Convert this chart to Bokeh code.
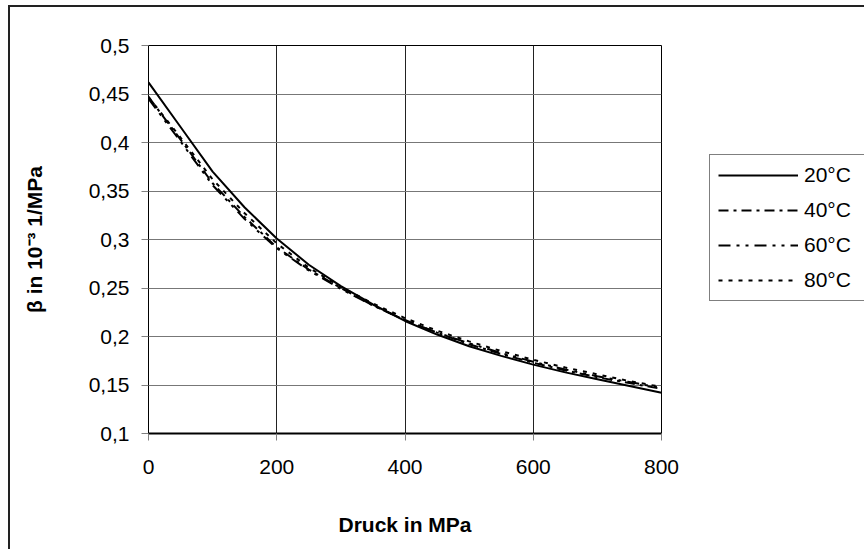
from bokeh.plotting import figure
from bokeh.models import FixedTicker, Legend, LegendItem, Range1d
from bokeh.layouts import row
from bokeh.embed import file_html
from bokeh.resources import INLINE

# ---- data ----
pressure = [0, 50, 100, 150, 200, 250, 300, 350, 400, 450, 500, 550, 600, 650, 700, 750, 800]
beta_20 = [0.462, 0.416, 0.370, 0.333, 0.301, 0.274, 0.252, 0.233, 0.216, 0.202, 0.190, 0.180, 0.171, 0.163, 0.156, 0.149, 0.142]
beta_40 = [0.447, 0.403, 0.358, 0.323, 0.292, 0.269, 0.250, 0.232, 0.217, 0.204, 0.192, 0.182, 0.173, 0.165, 0.158, 0.152, 0.146]
beta_60 = [0.445, 0.401, 0.356, 0.321, 0.291, 0.268, 0.249, 0.232, 0.217, 0.204, 0.193, 0.183, 0.174, 0.166, 0.159, 0.153, 0.147]
beta_80 = [0.447, 0.405, 0.362, 0.327, 0.296, 0.271, 0.251, 0.234, 0.219, 0.206, 0.195, 0.185, 0.176, 0.168, 0.161, 0.154, 0.148]
series_names = ["20°C", "40°C", "60°C", "80°C"]

x_ticks = [0, 200, 400, 600, 800]
y_ticks = [0.1, 0.15, 0.2, 0.25, 0.3, 0.35, 0.4, 0.45, 0.5]
y_tick_labels = ["0,1", "0,15", "0,2", "0,25", "0,3", "0,35", "0,4", "0,45", "0,5"]

series = [beta_20, beta_40, beta_60, beta_80]
dashes = ["solid", "10 5 3 5", "12 6 3 6 3 6", "4 6"]

FONT = "Liberation Sans"
LINE = "linear-gradient(#222,#222)"

# ---------------- main plot ----------------
p = figure(width=680, height=549, output_backend="svg", toolbar_location=None,
           x_range=Range1d(0, 800), y_range=Range1d(0.1, 0.5),
           min_border_left=148, min_border_right=19, min_border_top=45, min_border_bottom=116)
p.background_fill_color = "white"
p.border_fill_color = None
p.outline_line_color = "black"
p.outline_line_width = 1
# outer chart-area border: left and top edges
p.styles = {
    "background-color": "white",
    "background-image": f"{LINE}, {LINE}",
    "background-size": "2px 100%, 100% 2px",
    "background-position": "8px 5px, 8px 5px",
    "background-repeat": "no-repeat",
}

p.xgrid.ticker = FixedTicker(ticks=x_ticks)
p.ygrid.ticker = FixedTicker(ticks=y_ticks)
p.xgrid.grid_line_color = "#222222"
p.ygrid.grid_line_color = "#777777"

p.xaxis.ticker = FixedTicker(ticks=x_ticks)
p.yaxis.ticker = FixedTicker(ticks=y_ticks)
p.yaxis.major_label_overrides = {t: l for t, l in zip(y_ticks, y_tick_labels)}
for ax in (p.xaxis[0], p.yaxis[0]):
    ax.major_label_text_font = FONT
    ax.major_label_text_font_size = "21px"
    ax.major_label_text_color = "black"
    ax.major_tick_line_color = "#808080"
    ax.major_tick_in = 0
    ax.major_tick_out = 7
    ax.minor_tick_line_color = None
    ax.axis_line_color = "black"
    ax.axis_label_text_font = FONT
    ax.axis_label_text_font_size = "21px"
    ax.axis_label_text_font_style = "bold"
    ax.axis_label_text_color = "black"
p.xaxis.axis_line_width = 2
p.yaxis.axis_line_width = 1
p.xaxis.major_label_standoff = 19
p.yaxis.major_label_standoff = 12
p.xaxis.axis_label = "Druck in MPa"
p.yaxis.axis_label = "β in 10⁻³ 1/MPa"
p.xaxis.axis_label_standoff = 36
p.yaxis.axis_label_standoff = 40

for ys, d in zip(series, dashes):
    p.line(pressure, ys, line_color="black", line_width=2, line_dash=d)

# ---------------- legend panel ----------------
# (its frame is aligned with the main plot's frame by the row layout)
lf = figure(width=184, height=549, output_backend="svg", toolbar_location=None,
            x_range=Range1d(-30, -20), y_range=Range1d(-30, -20),
            x_axis_location=None, y_axis_location=None,
            min_border_left=0, min_border_right=0, min_border_top=45, min_border_bottom=116)
lf.grid.visible = False
lf.outline_line_color = None
lf.background_fill_color = None
lf.border_fill_color = None
lf.styles = {
    "background-color": "white",
    "background-image": LINE,
    "background-size": "100% 2px",
    "background-position": "0px 5px",
    "background-repeat": "no-repeat",
}
items = []
for name, ys, d in zip(series_names, series, dashes):
    # same series, drawn outside this panel's visible range: only its legend entry shows
    r = lf.line(pressure, ys, line_color="black", line_width=2, line_dash=d)
    items.append(LegendItem(label=name, renderers=[r]))

legend = Legend(items=items, location=(29, 132), orientation="vertical")
legend.border_line_color = "black"
legend.border_line_width = 1
legend.background_fill_color = "white"
legend.background_fill_alpha = 1
legend.label_text_font = FONT
legend.label_text_font_size = "21px"
legend.label_text_color = "black"
legend.glyph_width = 80
legend.glyph_height = 20
legend.label_height = 20
legend.label_width = 52
legend.label_standoff = 6
legend.spacing = 11
legend.padding = 8
legend.margin = 0
lf.add_layout(legend, "center")

layout = row(p, lf)
layout.spacing = 0
open("out.html", "w").write(file_html(layout, INLINE))
